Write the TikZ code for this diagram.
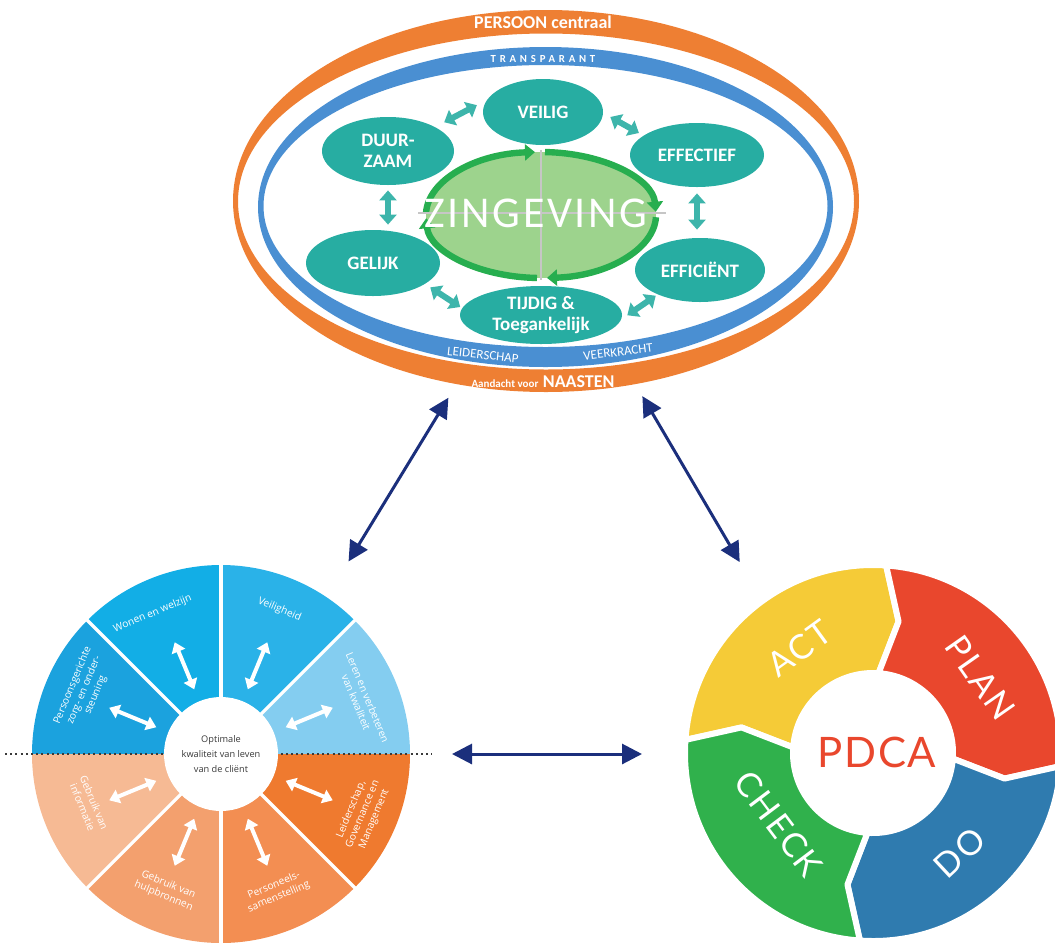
\documentclass[tikz,border=0pt]{standalone}
\usepackage{fontspec}
\setmainfont{Carlito}
\newfontfamily\wielfont{Open Sans}
\newfontfamily\pdcafont{Lato}
\usetikzlibrary{arrows.meta,shapes.geometric}

\definecolor{ringoranje}{HTML}{EE7F33}
\definecolor{ringblauw}{HTML}{4A8FD2}
\definecolor{turkoois}{HTML}{27ADA2}
\definecolor{lichtgroen}{HTML}{9DD38D}
\definecolor{randgroen}{HTML}{27AE4F}
\definecolor{marine}{HTML}{1B2F7C}
\definecolor{lerenblauw}{HTML}{84CDF0}
\definecolor{veiligblauw}{HTML}{2AB2E8}
\definecolor{wonenblauw}{HTML}{12AEE6}
\definecolor{persoonblauw}{HTML}{1BA2DE}
\definecolor{infooranje}{HTML}{F6BA94}
\definecolor{hulporanje}{HTML}{F3A06E}
\definecolor{personeeloranje}{HTML}{F38E52}
\definecolor{leidoranje}{HTML}{EF7A2F}
\definecolor{actgeel}{HTML}{F5CB37}
\definecolor{planrood}{HTML}{E9472D}
\definecolor{doblauw}{HTML}{2F7BAF}
\definecolor{checkgroen}{HTML}{30B14C}
\definecolor{tekstgrijs}{HTML}{3A3A3A}

\tikzset{
  waarde/.style={ellipse, fill=turkoois, text=white, align=center, inner sep=0pt,
    font=\bfseries\fontsize{9.5}{10.5}\selectfont},
  ringtekst/.style={text=white, inner sep=0pt},
  tealpijl/.style={draw=turkoois!90!white, line width=3pt,
    {Triangle[length=5pt,width=8.5pt]}-{Triangle[length=5pt,width=8.5pt]}},
  groenpijl/.style={draw=randgroen, line width=3.2pt, -{Triangle[length=5pt,width=8pt]}},
  kruislijn/.style={draw=gray!45, line width=0.8pt},
  marinepijl/.style={draw=marine, line width=1.5pt,
    {Triangle[length=10pt,width=10pt]}-{Triangle[length=10pt,width=10pt]}},
  witpijl/.style={draw=white, line width=2pt,
    {Triangle[length=5pt,width=7pt]}-{Triangle[length=5pt,width=7pt]}},
  wieltekst/.style={text=white, align=center, inner sep=0pt,
    font=\wielfont\fontsize{5.1}{6.2}\selectfont},
  pdcatekst/.style={text=white, inner sep=0pt, font=\pdcafont\fontsize{17}{17}\selectfont\addfontfeature{LetterSpace=6}}
}

\begin{document}
\begin{tikzpicture}[x=0.5pt,y=-0.5pt]
\useasboundingbox (0,0) rectangle (1055,943);
\clip (0,0) rectangle (1055,943);

\node[ellipse, minimum width=313pt, minimum height=191pt, inner sep=0pt, outer sep=0pt] (persoon) at (546,201) {};
\fill[ringoranje, even odd rule] (546,201) ellipse[x radius=313, y radius=191] (546,201.5) ellipse[x radius=308, y radius=168];
\fill[ringblauw, even odd rule] (545.5,207) ellipse[x radius=287.5, y radius=160] (545.5,206) ellipse[x radius=282, y radius=141];
\node[ringtekst, font=\bfseries\fontsize{9}{10}\selectfont] (centraal) at (543,22) {PERSOON centraal};
\node[ringtekst, font=\bfseries\fontsize{5.4}{6}\selectfont\addfontfeature{LetterSpace=35}] (transparant) at (543,59) {TRANSPARANT};
\node[ringtekst, font=\fontsize{6.5}{7}\selectfont, rotate=-6] (leiderschaptekst) at (483,355) {LEIDERSCHAP};
\node[ringtekst, font=\fontsize{6.5}{7}\selectfont, rotate=7] (veerkracht) at (618,352) {VEERKRACHT};
\node[ringtekst, font=\bfseries] (naasten) at (543,382) {{\fontsize{5.5}{6}\selectfont Aandacht voor} {\fontsize{9}{10}\selectfont NAASTEN}};

\fill[lichtgroen] (541,215) ellipse[x radius=115, y radius=63];
\begin{scope}[shift={(541,215)}, yscale=-1]
\draw[groenpijl] (88:115 and 63) arc[start angle=88, end angle=3, x radius=115, y radius=63];
\draw[groenpijl] (-2:115 and 63) arc[start angle=-2, end angle=-87, x radius=115, y radius=63];
\draw[groenpijl] (-92:115 and 63) arc[start angle=-92, end angle=-177, x radius=115, y radius=63];
\draw[groenpijl] (178:115 and 63) arc[start angle=178, end angle=93, x radius=115, y radius=63];
\end{scope}
\draw[kruislijn] (541,150) -- (541,280);
\draw[kruislijn] (418,213) -- (666,213);
\node[text=white, font=\fontsize{22}{24}\selectfont\addfontfeature{LetterSpace=6}] (zingeving) at (536,213) {ZINGEVING};

\node[waarde, minimum width=60pt, minimum height=33pt] (veilig) at (543,112) {VEILIG};
\node[waarde, minimum width=66pt, minimum height=34pt] (duurzaam) at (388,151) {DUUR-\\ZAAM};
\node[waarde, minimum width=67pt, minimum height=32pt] (effectief) at (697,155) {EFFECTIEF};
\node[waarde, minimum width=65pt, minimum height=32pt] (efficient) at (700,270) {EFFICIËNT};
\node[waarde, minimum width=67pt, minimum height=33pt] (gelijk) at (373,263) {GELIJK};
\node[waarde, minimum width=81pt, minimum height=29pt] (tijdig) at (541,315) {TIJDIG \&\\Toegankelijk};

\draw[tealpijl, shorten <=5pt, shorten >=5.5pt] (duurzaam.27) -- (veilig.168);
\draw[tealpijl, shorten <=4pt, shorten >=2.5pt] (veilig.-1) -- (effectief.160);
\draw[tealpijl, shorten <=2.5pt, shorten >=2.5pt] (duurzaam.south) -- (duurzaam.south |- gelijk.north);
\draw[tealpijl, shorten <=3pt, shorten >=4pt] (effectief.south) -- (effectief.south |- efficient.north);
\draw[tealpijl, shorten <=3pt, shorten >=1pt] (gelijk.-22) -- (tijdig.175);
\draw[tealpijl, shorten <=3.5pt, shorten >=1pt] (tijdig.-3) -- (efficient.210);

\node[circle, minimum size=189pt, inner sep=0pt, outer sep=0pt] (wiel) at (221,754) {};
\begin{scope}[shift={(wiel.center)}, yscale=-1]
\foreach \a/\kleur in {0/lerenblauw, 45/veiligblauw, 90/wonenblauw, 135/persoonblauw,
  180/infooranje, 225/hulporanje, 270/personeeloranje, 315/leidoranje}
  \fill[\kleur] (0,0) -- (\a:189) arc[start angle=\a, end angle=\a+45, radius=189] -- cycle;
\foreach \a in {45,90,135,225,270,315}
  \draw[white, line width=1.6pt] (0,0) -- (\a:192);
\end{scope}
\draw[tekstgrijs, line width=1pt, dash pattern=on 1pt off 1.6pt] (5,754) -- (432,754);
\node[circle, fill=white, minimum size=57pt, inner sep=0pt, align=center, text=tekstgrijs,
  font=\wielfont\fontsize{4.6}{7.5}\selectfont] (midden) at (wiel) {Optimale\\kwaliteit van leven\\van de cliënt};
\begin{scope}[shift={(wiel.center)}, yscale=-1]
\foreach \m in {22.5,67.5,...,337.5}
  \draw[witpijl] (\m:70) -- (\m:121);
\node[wieltekst, rotate=22.5] (wonen) at (116:156) {Wonen en welzijn};
\node[wieltekst, rotate=-22.5] (veiligheid) at (68:156) {Veiligheid};
\node[wieltekst, rotate=-67.5] (leren) at (21:151) {Leren en verbeteren\\van kwaliteit};
\node[wieltekst, rotate=67.5] (persoonsgericht) at (155:151) {Persoonsgerichte\\zorg- en onder-\\steuning};
\node[wieltekst, rotate=-67.5] (informatie) at (201:142) {Gebruik van\\informatie};
\node[wieltekst, rotate=-22.5] (hulpbronnen) at (248:147) {Gebruik van\\hulpbronnen};
\node[wieltekst, rotate=22.5] (personeel) at (292:148) {Personeels-\\samenstelling};
\node[wieltekst, rotate=67.5] (leiderschap) at (337:154) {Leiderschap,\\Governance en\\Management};
\end{scope}

\node[circle, minimum size=188pt, inner sep=0pt, outer sep=0pt] (pdca) at (873,753) {};
\begin{scope}[shift={(pdca.center)}, yscale=-1]
\foreach \a/\b/\kleur in {176/86/actgeel, 86/-4/planrood, -4/-94/doblauw, -94/-184/checkgroen}
  \filldraw[fill=\kleur, draw=white, line width=3pt, line join=round]
    (\a:188) arc[start angle=\a, end angle=\b, radius=188] -- (\b-7:134) -- (\b:80)
    arc[start angle=\b, end angle=\a, radius=80] -- (\a-7:134) -- cycle;
\node[pdcatekst, rotate=36] (act) at (125:128) {ACT};
\node[pdcatekst, rotate=-55] (plan) at (35:131) {PLAN};
\node[pdcatekst, rotate=43] (do) at (-49:132) {DO};
\node[pdcatekst, rotate=-53] (check) at (217:118) {CHECK};
\end{scope}
\node[text=planrood, font=\pdcafont\fontsize{21}{21}\selectfont\addfontfeature{LetterSpace=4}] (pdcamidden) at (877,752) {PDCA};

\draw[marinepijl, shorten <=8pt, shorten >=21pt] (persoon.-116) -- (wiel.56);
\draw[marinepijl, shorten <=7pt, shorten >=22.5pt] (persoon.-64) -- (pdca.126);
\draw[marinepijl, shorten <=21pt, shorten >=21.5pt] (wiel.east) -- (wiel.east -| pdca.west);
\end{tikzpicture}
\end{document}
